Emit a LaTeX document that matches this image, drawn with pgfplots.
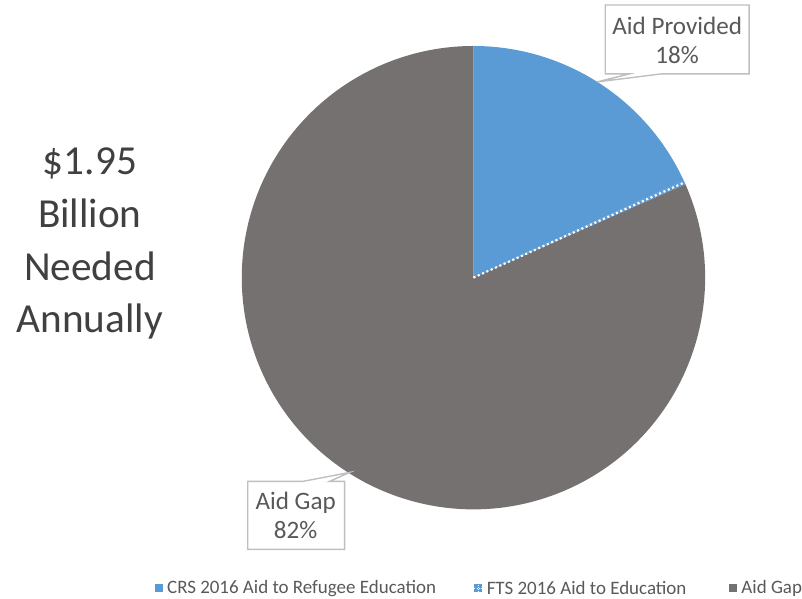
\documentclass[border=0pt]{standalone}
\usepackage{pgfplots}
\pgfplotsset{compat=1.18}
\usepackage{fontspec}
\setmainfont{Carlito}
\definecolor{crsblue}{HTML}{5B9BD5}
\definecolor{gapgray}{HTML}{767171}
\definecolor{txtdark}{HTML}{404040}
\definecolor{txtgray}{HTML}{595959}
\definecolor{boxline}{HTML}{BFBFBF}
% shares of the 1.95 billion (percent)
\def\crs{18.1}
\def\fts{0.3}
\def\gap{81.6}
\begin{document}
\begin{tikzpicture}
\begin{axis}[x=0.02cm,y=0.02cm,xmin=0,xmax=802,ymin=0,ymax=599,
  hide axis,clip=false,scale only axis]
\path (axis cs:0,0) rectangle (axis cs:802,599);
% pie slices
\fill[crsblue] (axis cs:474,321) -- ++(90:4.64cm) arc[start angle=90,end angle={90-3.6*\crs},radius=4.64cm] -- cycle;
\fill[crsblue] (axis cs:474,321) -- ++({90-3.6*\crs}:4.64cm) arc[start angle={90-3.6*\crs},end angle={90-3.6*(\crs+\fts)},radius=4.64cm] -- cycle;
\fill[gapgray] (axis cs:474,321) -- ++({90-3.6*(\crs+\fts)}:4.64cm) arc[start angle={90-3.6*(\crs+\fts)},end angle={-270},radius=4.64cm] -- cycle;
\draw[white,line width=1.2pt,dash pattern=on 1.2pt off 1.5pt] (axis cs:474,321) -- ++({90-3.6*(\crs+\fts/2)}:4.64cm);
% left text
\node[text=txtdark,font=\fontsize{23.5}{30}\selectfont,align=center] at (axis cs:90,355) {\$1.95\\Billion\\Needed\\Annually};
% callouts
\draw[boxline,line width=0.8pt,fill=white] (axis cs:606,594) -- (axis cs:750,594) -- (axis cs:750,525) -- (axis cs:662,525) -- (axis cs:598,517) -- (axis cs:630,525) -- (axis cs:606,525) -- cycle;
\node[text=txtgray,font=\fontsize{14.3}{16.5}\selectfont,align=center] at (axis cs:678,559) {Aid Provided\\18\%};
\draw[boxline,line width=0.8pt,fill=white] (axis cs:248,117) -- (axis cs:303,117) -- (axis cs:350,126) -- (axis cs:330,117) -- (axis cs:345,117) -- (axis cs:345,49) -- (axis cs:248,49) -- cycle;
\node[text=txtgray,font=\fontsize{14.3}{16.5}\selectfont,align=center] at (axis cs:296,83) {Aid Gap\\82\%};
% legend
\fill[crsblue] (axis cs:155,6) rectangle (axis cs:163,14);
\node[anchor=west,inner sep=0pt,text=txtgray,font=\fontsize{10.8}{12}\selectfont] at (axis cs:167,10) {CRS 2016 Aid to Refugee Education};
\fill[crsblue] (axis cs:475,6) rectangle (axis cs:483,14);
\draw[white,line width=0.6pt,dash pattern=on 0.6pt off 0.6pt] (axis cs:475,10) -- (axis cs:483,10);
\draw[white,line width=0.6pt,dash pattern=on 0.6pt off 0.6pt] (axis cs:479,6) -- (axis cs:479,14);
\node[anchor=west,inner sep=0pt,text=txtgray,font=\fontsize{10.8}{12}\selectfont] at (axis cs:487,10) {FTS 2016 Aid to Education};
\fill[gapgray] (axis cs:730,6) rectangle (axis cs:738,14);
\node[anchor=west,inner sep=0pt,text=txtgray,font=\fontsize{10.8}{12}\selectfont] at (axis cs:742,10) {Aid Gap};
\end{axis}
\end{tikzpicture}
\end{document}
